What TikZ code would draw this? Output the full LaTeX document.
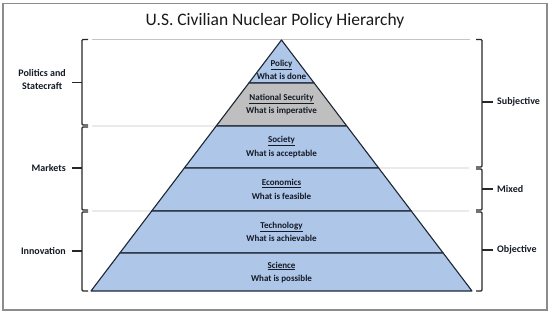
\documentclass[tikz,border=0pt]{standalone}
\usepackage{fontspec}
\setmainfont{Carlito}
\usetikzlibrary{calc}
\definecolor{layerblue}{HTML}{AEC6E8}
\definecolor{layergray}{HTML}{BFBFBF}
\definecolor{edgecol}{HTML}{1C2533}
\definecolor{txtcol}{HTML}{141A26}
\definecolor{guide}{HTML}{C4C4C4}
\definecolor{frame}{HTML}{8C8C8C}
\begin{document}
\begin{tikzpicture}[x=1pt,y=-1pt,
  layer/.style={draw=edgecol,line width=1.1pt,line join=round},
  layertext/.style={text=txtcol,font=\fontsize{9}{13.5}\selectfont\bfseries,align=center,inner sep=0pt},
  sidelabel/.style={text=txtcol,font=\fontsize{10}{13}\selectfont\bfseries,align=center,inner sep=0pt},
  bracket/.style={draw=black!85,line width=1.1pt,rounded corners=1pt},
  guideline/.style={draw=guide,line width=0.9pt}]
\useasboundingbox (0,0) rectangle (550,315);
\draw[frame,line width=1.2pt] (3,3.5) rectangle (547,310);
\node[text=black!90,font=\fontsize{17.5}{20}\selectfont,inner sep=0pt] (title) at (275,20.5) {U.S. Civilian Nuclear Policy Hierarchy};
% pyramid geometry
\coordinate (A) at (281.5,40);
\coordinate (BL) at (91,291);
\coordinate (BR) at (472,291);
\foreach \n/\y in {1/83,2/126,3/168,4/211,5/253}{
  \coordinate (L\n) at ($(A)!{(\y-40)/251}!(BL)$);
  \coordinate (R\n) at ($(A)!{(\y-40)/251}!(BR)$);
}
% guide lines
\draw[guideline] (92,39.5) -- (470,39.5);
\draw[guideline] (92,126) -- (L2);
\draw[guideline] (R3) -- (469,168);
\draw[guideline] (92,211) -- (L4);
\draw[guideline] (R4) -- (469,211);
% layers
\filldraw[layer,fill=layerblue] (A) -- (L1) -- (R1) -- cycle;
\filldraw[layer,fill=layergray] (L1) -- (L2) -- (R2) -- (R1) -- cycle;
\filldraw[layer,fill=layerblue] (L2) -- (L3) -- (R3) -- (R2) -- cycle;
\filldraw[layer,fill=layerblue] (L3) -- (L4) -- (R4) -- (R3) -- cycle;
\filldraw[layer,fill=layerblue] (L4) -- (L5) -- (R5) -- (R4) -- cycle;
\filldraw[layer,fill=layerblue] (L5) -- (BL) -- (BR) -- (R5) -- cycle;
% layer texts
\node[layertext] (policy) at (281.5,70) {\underline{Policy}\\What is done};
\node[layertext] (natsec) at (281.5,104.5) {\underline{National Security}\\What is imperative};
\node[layertext] (society) at (281.5,147) {\underline{Society}\\What is acceptable};
\node[layertext] (econ) at (281.5,189.5) {\underline{Economics}\\What is feasible};
\node[layertext] (tech) at (281.5,232) {\underline{Technology}\\What is achievable};
\node[layertext] (sci) at (281.5,272.5) {\underline{Science}\\What is possible};
% left brackets
\draw[bracket] (88,39.5) -- (82,39.5) -- (82,125) -- (88,125);
\draw[bracket] (88,127) -- (82,127) -- (82,210) -- (88,210);
\draw[bracket] (88,212) -- (82,212) -- (82,291) -- (88,291);
\coordinate (tl1) at (72,82.5);
\coordinate (tl2) at (72,168);
\coordinate (tl3) at (72,251);
\draw[bracket] (82,82.5) -- (tl1);
\draw[bracket] (82,168) -- (tl2);
\draw[bracket] (82,251) -- (tl3);
\node[sidelabel,anchor=east] (politics) at ($(tl1)+(-6,-3)$) {Politics and\\Statecraft};
\node[sidelabel,anchor=east] (markets) at ($(tl2)+(-6,0)$) {Markets};
\node[sidelabel,anchor=east] (innov) at ($(tl3)+(-6,0)$) {Innovation};
% right brackets
\draw[bracket] (476,39.5) -- (482,39.5) -- (482,167) -- (476,167);
\draw[bracket] (476,169) -- (482,169) -- (482,210) -- (476,210);
\draw[bracket] (476,212) -- (482,212) -- (482,291) -- (476,291);
\coordinate (tr1) at (493,102);
\coordinate (tr2) at (493,189);
\coordinate (tr3) at (493,250);
\draw[bracket] (482,102) -- (tr1);
\draw[bracket] (482,189) -- (tr2);
\draw[bracket] (482,250) -- (tr3);
\node[sidelabel,anchor=west] (subj) at ($(tr1)+(4,0)$) {Subjective};
\node[sidelabel,anchor=west] (mixed) at ($(tr2)+(4,0)$) {Mixed};
\node[sidelabel,anchor=west] (obj) at ($(tr3)+(4,0)$) {Objective};
\end{tikzpicture}
\end{document}
